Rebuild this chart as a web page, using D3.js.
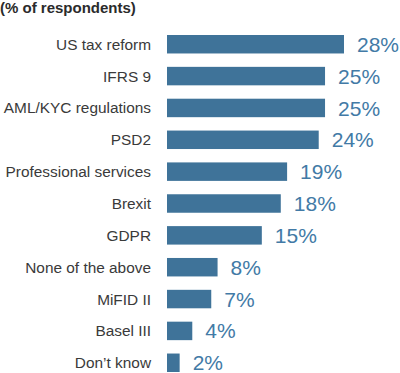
<!DOCTYPE html>
<html>
<head>
<meta charset="utf-8">
<script src="https://cdn.jsdelivr.net/npm/d3@7"></script>
<style>
  body { margin: 0; background: #fff; }
  svg { display: block; font-family: "Liberation Sans", Arial, sans-serif; }
</style>
</head>
<body>
<svg id="chart" width="400" height="373"></svg>
<script>
const categories = ["US tax reform", "IFRS 9", "AML/KYC regulations", "PSD2", "Professional services",
  "Brexit", "GDPR", "None of the above", "MiFID II", "Basel III", "Don\u2019t know"];
const values = [28, 25, 25, 24, 19, 18, 15, 8, 7, 4, 2];
const title = "(% of respondents)";

const svg = d3.select("#chart");

const x = d3.scaleLinear()
  .domain([0, 28])
  .range([167, 344]);

const y = d3.scaleBand()
  .domain(categories)
  .range([35, 372])
  .paddingInner(0.42)
  .paddingOuter(0);

svg.append("text")
  .attr("x", 0)
  .attr("y", 13)
  .attr("font-size", 15)
  .attr("font-weight", "bold")
  .attr("fill", "#2b2b2b")
  .text(title);

const rows = svg.append("g")
  .selectAll("g")
  .data(categories)
  .enter()
  .append("g");

rows.append("rect")
  .attr("x", x(0))
  .attr("y", d => y(d))
  .attr("width", (d, i) => x(values[i]) - x(0))
  .attr("height", y.bandwidth())
  .attr("fill", "#3f7399");

rows.append("text")
  .attr("x", 151)
  .attr("y", d => y(d) + y.bandwidth() / 2)
  .attr("dy", "0.36em")
  .attr("text-anchor", "end")
  .attr("font-size", 15.4)
  .attr("fill", "#3a3a3a")
  .text(d => d);

rows.append("text")
  .attr("x", (d, i) => x(values[i]) + 13)
  .attr("y", d => y(d) + y.bandwidth() / 2)
  .attr("dy", "0.36em")
  .attr("font-size", 21)
  .attr("fill", "#427aa6")
  .text((d, i) => values[i] + "%");
</script>
</body>
</html>
